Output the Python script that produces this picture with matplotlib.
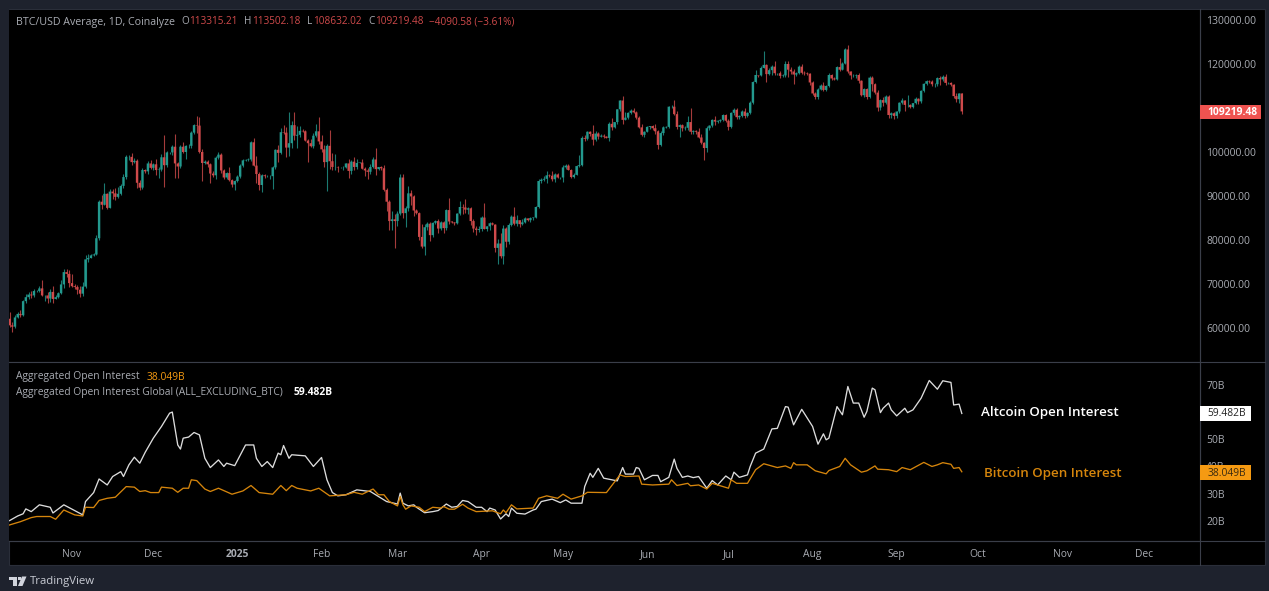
import numpy as np
import pandas as pd
import matplotlib
matplotlib.use('Agg')
import matplotlib.pyplot as plt
import matplotlib.dates as mdates
from matplotlib.patches import Rectangle, Polygon

W, H = 1269, 591
plt.rcParams['font.family'] = ['Open Sans', 'DejaVu Sans']

# daily closes in thousands, one row per month (Oct 9 2024 - Sep 25 2025)
closes = [
    60.6, 60.3, 62.4, 63.2, 62.9, 66.1, 67.0, 67.6, 67.4, 68.4, 68.4, 69.0, 67.4, 67.4, 66.7, 68.2, 66.6, 67.0, 67.9, 69.9, 72.7, 72.3, 70.2,
    69.5, 69.3, 68.7, 67.8, 69.4, 75.6, 75.9, 76.5, 76.7, 80.4, 88.7, 88.0, 90.5, 87.3, 91.0, 90.6, 89.8, 90.5, 92.3, 94.3, 98.9, 98.9, 97.7, 98.0, 93.0, 91.9, 95.9, 95.6, 97.4, 96.4,
    97.2, 95.9, 96.0, 98.8, 97.0, 99.9, 99.9, 101.2, 97.4, 96.7, 101.2, 100.0, 101.4, 101.4, 104.4, 106.1, 106.0, 100.0, 97.5, 97.8, 97.2, 95.1, 94.7, 98.7, 99.4, 95.8, 94.2, 95.2, 93.6, 92.6, 93.4,
    94.4, 96.9, 98.1, 98.2, 98.3, 102.2, 96.9, 95.0, 92.5, 94.7, 94.5, 94.5, 94.5, 96.5, 100.5, 99.8, 104.5, 104.4, 101.0, 102.0, 106.1, 103.7, 103.9, 104.8, 104.7, 102.6, 102.0, 101.3, 103.7, 104.7, 102.4,
    100.6, 97.7, 101.4, 97.9, 96.6, 96.6, 96.5, 96.5, 96.5, 97.4, 95.7, 97.8, 96.6, 97.5, 97.6, 96.2, 95.8, 95.5, 96.6, 98.3, 96.1, 96.6, 96.3, 91.4, 88.7, 84.3, 84.7, 84.3,
    86.0, 94.2, 86.1, 87.2, 90.6, 89.9, 86.7, 86.1, 80.7, 78.5, 82.9, 83.7, 81.1, 83.9, 84.3, 82.6, 84.0, 82.7, 86.8, 84.2, 84.0, 83.8, 86.0, 87.5, 87.4, 86.9, 87.2, 84.3, 82.6, 82.3, 82.5,
    85.1, 82.5, 83.1, 83.8, 83.5, 78.2, 79.2, 76.3, 82.6, 79.6, 83.4, 85.3, 83.7, 84.5, 83.6, 84.0, 84.9, 84.5, 85.0, 85.1, 87.5, 93.4, 93.7, 93.9, 94.7, 94.6, 93.8, 94.9, 94.2, 94.2,
    96.5, 96.9, 95.9, 94.3, 94.8, 96.8, 97.0, 103.2, 103.0, 104.6, 104.1, 102.8, 104.2, 103.5, 103.7, 103.5, 103.2, 106.4, 105.6, 106.8, 109.7, 111.7, 107.3, 107.8, 108.9, 109.4, 109.0, 107.8, 105.6, 103.9, 104.6,
    105.7, 105.9, 105.4, 104.7, 101.6, 104.3, 105.6, 105.7, 110.3, 110.3, 108.6, 105.7, 106.1, 105.4, 105.5, 106.8, 104.6, 104.8, 104.6, 103.3, 102.1, 100.9, 105.4, 106.0, 107.3, 106.9, 107.1, 107.3, 108.4, 107.1,
    105.7, 108.9, 109.6, 107.9, 108.2, 109.2, 108.2, 108.9, 111.2, 115.9, 117.5, 117.4, 119.1, 119.8, 117.7, 118.6, 119.4, 117.9, 117.9, 117.3, 117.4, 120.0, 118.7, 118.3, 117.6, 117.9, 119.4, 118.0, 117.9, 117.8, 115.8,
    113.3, 112.5, 114.2, 115.1, 114.1, 115.0, 117.5, 116.7, 116.5, 119.3, 118.7, 120.1, 123.3, 118.3, 117.4, 117.4, 117.5, 116.2, 112.9, 114.3, 112.5, 116.9, 115.4, 113.5, 110.1, 111.8, 111.2, 112.6, 108.4, 108.8, 108.2,
    109.2, 111.2, 111.7, 110.7, 110.7, 110.2, 111.1, 112.1, 111.5, 113.9, 115.5, 116.1, 116.0, 115.4, 115.4, 116.8, 116.5, 117.1, 115.7, 115.7, 115.3, 112.7, 112.0, 113.3, 109.219,
]
# wick length above the body, thousands
wick_up = [
    1.5, 0.8, 0.6, 0.4, 0.9, 0.3, 0.8, 0.6, 0.7, 0.5, 0.3, 0.5, 1.8, 0.2, 0.7, 0.6, 1.4, 0.4, 0.3, 1.0, 0.6, 0.7, 0.8,
    2.0, 0.6, 0.5, 0.8, 1.0, 1.0, 0.9, 0.4, 0.3, 0.8, 0.5, 1.5, 2.5, 0.2, 0.5, 0.7, 1.2, 1.5, 0.4, 0.6, 0.5, 0.4, 0.9, 0.6, 0.5, 0.7, 0.4, 0.2, 0.5, 0.8,
    0.3, 1.2, 0.5, 0.7, 5.0, 0.3, 0.2, 0.4, 3.0, 0.4, 0.3, 1.0, 0.2, 0.4, 0.3, 0.3, 2.0, 2.0, 0.6, 0.4, 0.3, 0.3, 0.5, 0.5, 0.5, 0.3, 0.3, 0.3, 1.4, 0.3, 0.2,
    0.3, 0.3, 0.3, 0.2, 0.4, 0.3, 0.9, 2.3, 0.4, 0.4, 0.3, 0.2, 0.2, 0.4, 0.2, 1.0, 1.0, 1.6, 1.2, 7.0, 1.0, 3.0, 2.0, 1.2, 0.5, 0.2, 0.4, 1.0, 0.6, 1.6, 3.3,
    1.5, 1.0, 0.5, 3.5, 1.8, 2.9, 0.3, 0.2, 0.4, 0.2, 0.9, 0.4, 1.0, 1.0, 0.2, 0.8, 0.4, 0.5, 0.6, 0.6, 2.7, 0.1, 0.3, 0.8, 0.4, 0.4, 2.0, 1.2,
    0.6, 0.8, 0.9, 0.5, 1.6, 0.7, 0.3, 0.3, 0.3, 2.9, 0.7, 0.3, 0.3, 0.2, 0.3, 0.4, 0.3, 0.4, 0.2, 2.7, 0.2, 0.2, 0.1, 1.4, 0.7, 1.9, 0.2, 0.4, 0.4, 0.5, 0.6,
    0.4, 3.3, 0.0, 0.3, 0.2, 0.1, 1.0, 2.4, 0.9, 0.3, 0.5, 0.3, 2.2, 1.2, 0.1, 0.7, 0.3, 0.2, 0.2, 0.1, 0.3, 0.4, 0.3, 0.6, 1.0, 0.4, 1.0, 0.4, 0.4, 0.1,
    0.6, 0.4, 0.4, 0.3, 0.4, 0.3, 2.4, 0.5, 0.6, 0.2, 0.2, 2.0, 0.6, 0.3, 0.4, 0.4, 0.2, 0.4, 1.3, 0.0, 0.1, 0.2, 1.0, 1.4, 0.2, 0.4, 0.5, 0.4, 0.3, 0.8, 0.1,
    0.2, 0.1, 0.2, 1.0, 0.3, 0.5, 0.2, 0.3, 0.1, 0.3, 1.5, 0.7, 0.3, 0.3, 0.3, 1.3, 3.1, 0.2, 0.2, 0.8, 0.7, 0.2, 0.5, 0.2, 0.1, 0.8, 0.2, 0.2, 0.2, 0.2,
    0.4, 0.2, 0.3, 0.4, 0.2, 0.3, 0.8, 0.2, 0.3, 0.2, 1.2, 0.1, 0.4, 3.1, 0.1, 0.5, 0.4, 1.2, 0.1, 0.4, 0.3, 0.6, 0.6, 0.7, 0.5, 0.2, 0.3, 0.5, 0.4, 0.3, 0.2,
    0.3, 0.3, 0.4, 0.4, 0.7, 0.2, 0.5, 0.2, 0.4, 0.2, 2.0, 0.3, 0.3, 1.1, 0.1, 0.3, 0.2, 0.4, 0.1, 0.2, 0.2, 0.3, 0.3, 0.2, 0.5, 0.3, 0.6, 0.3, 0.3, 0.2, 0.3,
    0.1, 0.2, 0.6, 0.1, 2.2, 0.2, 0.1, 0.3, 0.2, 0.1, 0.2, 0.2, 0.2, 0.4, 0.3, 0.3, 0.4, 0.3, 0.7, 0.1, 0.2, 0.1, 0.6, 0.2, 0.2,
]
# wick length below the body, thousands
wick_down = [
    0.4, 1.3, 0.2, 0.1, 0.3, 0.1, 0.4, 0.4, 0.6, 0.4, 0.3, 0.2, 0.2, 1.2, 1.0, 0.8, 0.9, 0.1, 0.2, 0.1, 0.8, 0.8, 0.8,
    0.2, 0.4, 0.9, 0.8, 0.6, 0.2, 0.6, 0.1, 0.2, 0.1, 0.3, 1.0, 0.1, 0.3, 0.1, 1.2, 0.6, 0.2, 0.2, 0.5, 0.4, 0.7, 0.6, 0.3, 1.2, 0.6, 0.2, 0.3, 0.5, 0.3,
    0.5, 1.2, 1.8, 0.4, 5.0, 0.3, 0.4, 0.5, 3.2, 2.5, 0.4, 0.3, 1.5, 0.4, 0.4, 0.4, 1.6, 0.3, 4.0, 0.3, 0.5, 2.2, 0.3, 0.8, 0.2, 0.5, 0.4, 0.4, 0.3, 0.6, 1.2,
    0.3, 0.4, 0.2, 0.1, 0.3, 0.3, 0.1, 2.0, 1.1, 1.6, 0.5, 0.1, 0.6, 2.8, 0.4, 2.0, 0.3, 0.4, 2.2, 1.9, 1.0, 1.0, 2.8, 0.5, 0.2, 0.1, 4.2, 0.2, 0.3, 0.2, 0.6,
    0.7, 1.0, 6.5, 1.7, 0.6, 0.8, 1.0, 0.1, 0.7, 0.2, 1.5, 0.7, 0.6, 0.5, 0.1, 0.1, 1.2, 1.6, 0.4, 0.3, 1.3, 0.1, 0.3, 0.2, 2.1, 2.0, 2.0, 6.1,
    1.2, 0.3, 1.1, 3.2, 0.6, 2.0, 1.2, 0.3, 0.6, 0.3, 1.9, 0.6, 1.3, 0.4, 0.3, 1.0, 0.4, 1.2, 0.5, 0.5, 0.2, 0.3, 0.2, 0.3, 1.4, 0.7, 0.9, 0.9, 0.8, 1.1, 0.4,
    0.4, 0.1, 0.4, 0.9, 0.2, 1.0, 3.7, 0.4, 1.8, 1.1, 0.5, 0.3, 0.2, 0.5, 0.6, 0.3, 0.2, 0.1, 0.3, 0.4, 0.2, 0.3, 0.5, 0.2, 1.0, 0.3, 0.5, 0.6, 0.1, 0.3,
    1.0, 0.4, 0.1, 0.2, 0.3, 0.1, 0.3, 0.2, 0.4, 0.3, 0.4, 1.3, 0.3, 0.5, 0.2, 0.4, 0.1, 0.8, 0.5, 0.2, 0.4, 0.3, 1.0, 0.1, 0.2, 0.2, 0.2, 0.3, 0.2, 0.2, 0.4,
    0.1, 0.5, 0.3, 0.5, 1.0, 0.2, 0.4, 0.2, 0.2, 0.4, 0.3, 0.5, 2.3, 0.6, 0.4, 0.6, 0.4, 0.6, 0.4, 0.2, 0.3, 2.7, 1.0, 0.4, 0.3, 0.8, 0.4, 0.3, 0.3, 0.2,
    0.6, 0.2, 0.4, 0.5, 0.3, 0.2, 0.4, 0.2, 0.2, 0.2, 0.2, 0.4, 0.2, 0.1, 1.7, 0.2, 1.0, 0.4, 0.4, 0.5, 0.3, 0.4, 1.7, 0.5, 2.1, 0.3, 0.1, 0.3, 0.4, 0.4, 0.5,
    0.4, 0.4, 0.4, 0.1, 0.2, 0.2, 0.2, 0.3, 0.2, 0.1, 0.2, 0.1, 0.2, 0.4, 0.7, 0.4, 0.5, 0.5, 0.2, 0.4, 0.5, 0.2, 1.5, 0.3, 0.7, 0.5, 0.8, 0.3, 0.6, 0.7, 0.6,
    0.5, 0.3, 0.3, 1.3, 0.5, 0.3, 0.2, 0.2, 0.7, 0.4, 0.3, 0.2, 0.3, 0.3, 0.6, 0.4, 1.3, 0.3, 0.4, 0.2, 0.2, 0.4, 0.7, 0.8, 0.6,
]

# open interest, billions: day offset from the first candle and value
alt_days = [0, 3, 5, 6, 8, 11, 15, 16, 20, 27, 28, 31, 33, 36, 38, 41, 42, 44, 46, 48, 50, 53, 56, 59, 60, 62, 63, 64, 66, 68, 70, 72, 74, 77, 79, 80, 83, 87, 90, 91, 93, 95, 97, 99, 100, 101, 103, 104, 109, 112, 115, 117, 119, 121, 124, 128, 133, 139, 143, 144,
            145, 147, 149, 150, 153, 156, 158, 161, 163, 165, 167, 169, 172, 174, 176, 177, 179, 181, 183, 184, 185, 187, 190, 193, 194, 196, 200, 203, 205, 207, 211, 212, 214, 215, 217, 219, 222, 224, 226, 227, 230, 231, 232, 234, 237, 239, 240, 243, 245, 246, 248, 250, 252, 254, 257, 259, 261, 264, 266, 267, 269, 272, 273, 275, 278, 281, 283, 286, 287, 289, 292,
            296, 298, 300, 301, 302, 305, 307, 309, 311, 313, 315, 316, 318, 319, 321, 322, 324, 325, 327, 330, 331, 333, 336, 339, 342, 344, 347, 348, 350, 351]
alt_oi = [20.1, 21.8, 22.6, 24.4, 23.4, 25.9, 25.0, 22.9, 25.9, 22.2, 27.1, 30.4, 35.4, 33.2, 36.3, 38.1, 36.3, 40.6, 43.4, 41.2, 45.2, 50.4, 54.7, 59.6, 60.0, 47.9, 46.4, 50.4, 50.8, 52.5, 51.6, 43.0, 39.6, 42.4, 40.0, 41.2, 40.3, 47.9, 47.9, 43.0, 40.0, 41.8, 39.6, 44.9, 44.3, 47.7, 43.0, 44.3, 43.9, 40.0, 43.3, 35.1, 30.4, 29.2, 29.6, 31.4, 30.8, 27.1, 26.2, 30.2,
          26.5, 25.5, 25.9, 25.0, 23.0, 23.4, 23.8, 26.2, 25.0, 25.3, 27.5, 27.1, 25.0, 25.0, 23.4, 24.7, 24.0, 20.7, 22.6, 21.6, 24.7, 22.8, 22.5, 24.0, 24.3, 27.1, 28.0, 26.7, 27.7, 26.5, 26.5, 32.6, 37.5, 36.0, 39.3, 35.7, 35.1, 34.7, 39.6, 37.2, 37.2, 39.6, 39.3, 35.1, 36.7, 36.7, 34.4, 36.0, 42.7, 39.3, 36.0, 36.5, 35.9, 36.3, 32.0, 34.8, 33.2, 36.5, 35.1, 37.9, 36.0, 36.9, 40.0, 44.9, 46.4, 53.8, 54.0, 62.0, 61.8, 55.3, 61.0,
          54.7, 48.2, 52.0, 49.8, 50.4, 62.0, 59.0, 69.4, 63.3, 63.3, 58.1, 60.2, 68.8, 68.2, 59.8, 61.4, 63.3, 60.8, 58.6, 61.4, 59.8, 60.8, 65.1, 71.6, 68.4, 71.5, 70.9, 62.6, 62.9, 59.482]
btc_days = [0, 4, 8, 10, 15, 17, 20, 24, 27, 28, 31, 33, 36, 39, 43, 46, 48, 50, 52, 55, 56, 60, 62, 64, 66, 67, 69, 72, 74, 77, 82, 86, 89, 92, 97, 100, 102, 104, 106, 111, 114, 118, 124, 127, 130, 134, 136, 138, 140, 143, 144,
            145, 146, 148, 151, 153, 156, 159, 160, 162, 164, 167, 169, 172, 178, 181, 182, 183, 185, 187, 193, 195, 198, 202, 204, 207, 211, 213, 220, 225, 227, 232, 233, 237, 243, 244, 246, 250, 251, 254, 257, 259, 265, 266, 268, 272, 275, 278, 283, 286, 288, 289, 290,
            294, 297, 301, 302, 306, 308, 310, 314, 316, 319, 320, 324, 327, 329, 332, 337, 340, 342, 344, 347, 348, 350, 351]
btc_oi = [18.5, 19.7, 21.2, 21.6, 21.6, 20.6, 24.0, 22.2, 21.8, 25.0, 24.9, 27.5, 28.3, 28.7, 32.6, 32.4, 30.8, 31.1, 30.4, 30.4, 32.4, 32.0, 30.5, 32.0, 32.0, 35.1, 34.8, 31.7, 30.8, 32.0, 29.8, 31.0, 33.0, 30.4, 29.8, 33.0, 31.1, 33.0, 32.0, 31.0, 32.0, 29.2, 29.6, 30.5, 29.8, 31.7, 29.6, 29.6, 27.1, 25.5, 29.0,
          25.9, 24.3, 25.5, 25.0, 23.4, 25.0, 24.7, 25.3, 24.3, 24.3, 26.1, 24.7, 23.4, 23.7, 22.6, 24.0, 23.0, 25.9, 24.4, 24.7, 28.3, 29.2, 28.3, 29.8, 28.0, 29.2, 30.5, 30.4, 36.9, 36.3, 36.5, 33.5, 33.2, 33.5, 35.1, 33.0, 33.8, 32.9, 33.2, 31.7, 33.8, 32.0, 35.1, 33.8, 33.8, 38.8, 41.0, 39.6, 40.2, 39.3, 41.4, 40.6,
          40.6, 38.4, 37.3, 38.5, 40.0, 43.0, 40.6, 37.9, 38.4, 40.2, 39.0, 38.8, 38.1, 39.6, 38.8, 41.5, 40.0, 40.6, 41.4, 40.8, 39.3, 39.6, 38.049]

price_ticks = [60000, 70000, 80000, 90000, 100000, 120000, 130000]
oi_ticks = [20, 30, 40, 50, 70]
month_ticks = ['2024-11-01', '2024-12-01', '2025-01-01', '2025-02-01', '2025-03-01', '2025-04-01', '2025-05-01',
               '2025-06-01', '2025-07-01', '2025-08-01', '2025-09-01', '2025-10-01', '2025-11-01', '2025-12-01']
month_labels = ['Nov', 'Dec', '2025', 'Feb', 'Mar', 'Apr', 'May', 'Jun', 'Jul', 'Aug', 'Sep', 'Oct', 'Nov', 'Dec']

FRAME = '#1e222d'
GRID = '#2a2e39'
UP = '#23998e'
DOWN = '#cf4a4b'
GREY = '#a9acb3'
ORANGE = '#f59a12'
LINE_ORANGE = '#d5850c'


def fx(x):
    return x / W


def fy(y):
    return 1 - y / H


def label(x, y, s, color=GREY, size=7.4, **kw):
    fig.text(fx(x), fy(y), s, color=color, fontsize=size, va='center', ha=kw.pop('ha', 'left'), zorder=20, **kw)


fig = plt.figure(figsize=(W / 100, H / 100), dpi=100, facecolor=FRAME)
fig.patches.append(Rectangle((fx(9), fy(565)), fx(1256), 556 / H, transform=fig.transFigure, facecolor='black', edgecolor=GRID, lw=0.8, zorder=-1))

ax = fig.add_axes([fx(9), fy(362), fx(1191), 352 / H], facecolor='black')
ax2 = fig.add_axes([fx(9), fy(541), fx(1191), 179 / H], facecolor='black', sharex=ax)

start = mdates.date2num(pd.Timestamp('2024-10-09'))
closes_k = np.array(closes) * 1000
opens_k = np.r_[62100, closes_k[:-1]]
x = start + np.arange(len(closes_k))
highs = np.maximum(opens_k, closes_k) + np.array(wick_up) * 1000
lows = np.minimum(opens_k, closes_k) - np.array(wick_down) * 1000
colors = np.where(closes_k >= opens_k, UP, DOWN)

ax.vlines(x, lows, highs, colors=colors, lw=0.8, alpha=0.8)
bars = ax.bar(x, np.abs(closes_k - opens_k), bottom=np.minimum(opens_k, closes_k), width=0.88, color=colors, linewidth=0)
for b in bars:
    b.set_snap(False)

ax2.plot(start + np.array(alt_days), alt_oi, color='#dcdcdc', lw=0.95)
ax2.plot(start + np.array(btc_days), btc_oi, color=LINE_ORANGE, lw=0.95)

ax.set_xlim(start - 0.2, start + 438.8)
ax.set_ylim(52270, 132270)
ax2.set_ylim(12.6, 78.4)

ax.yaxis.tick_right()
ax.set_yticks(price_ticks)
ax.set_yticklabels(['%.2f' % t for t in price_ticks])
ax2.yaxis.tick_right()
ax2.set_yticks(oi_ticks)
ax2.set_yticklabels(['%dB' % t for t in oi_ticks])
ax2.set_xticks([mdates.date2num(pd.Timestamp(d)) for d in month_ticks])
ax2.set_xticklabels(month_labels)
ax.tick_params(axis='x', length=0, labelbottom=False)
ax.tick_params(axis='y', length=0, labelcolor=GREY, labelsize=7.5, pad=4.5)
ax2.tick_params(axis='y', length=0, labelcolor=GREY, labelsize=7.5, pad=4.5)
ax2.tick_params(axis='x', length=0, labelcolor=GREY, labelsize=7.4, pad=6)
ax2.get_xticklabels()[2].set_fontweight('bold')

for a in (ax, ax2):
    for side in ('left', 'top'):
        a.spines[side].set_visible(False)
    for side in ('right', 'bottom'):
        a.spines[side].set_color('#3a3e49')
fig.add_artist(plt.Line2D([fx(1200), fx(1200)], [fy(565), fy(9)], color='#3a3e49', lw=0.8))
fig.add_artist(plt.Line2D([fx(9), fx(1265)], [fy(362), fy(362)], color='#3a3e49', lw=0.8))
fig.add_artist(plt.Line2D([fx(9), fx(1265)], [fy(541), fy(541)], color='#3a3e49', lw=0.8))

# header line
label(16, 22, 'BTC/USD Average, 1D, Coinalyze', size=7.65)
for px, s, c in [(181, 'O', GREY), (189, '113315.21', DOWN), (244, 'H', GREY), (252, '113502.18', DOWN),
                 (307, 'L', GREY), (313, '108632.02', DOWN), (368, 'C', GREY), (375, '109219.48', DOWN),
                 (429, '\u22124090.58 (\u22123.61%)', DOWN)]:
    label(px, 22, s, color=c, size=7.2)

# oi legend
label(16, 377, 'Aggregated Open Interest')
label(147, 377, '38.049B', color=ORANGE)
label(16, 392.5, 'Aggregated Open Interest Global (ALL_EXCLUDING_BTC)')
label(294, 392.5, '59.482B', color='white', fontweight='bold')

# notes on the chart
label(981, 412.5, 'Altcoin Open Interest', color='white', size=9.6, fontweight='semibold')
label(984, 473, 'Bitcoin Open Interest', color=LINE_ORANGE, size=9.6, fontweight='semibold')

# last value tags
for y0, y1, x1, fc, tc, s in [(105, 119, 1261, '#ef5350', 'white', '109219.48'),
                              (406, 421, 1251, 'white', '#222222', '59.482B'),
                              (465, 480, 1251, '#f59a12', '#3a2a10', '38.049B')]:
    fig.patches.append(Rectangle((fx(1200), fy(y1)), fx(x1 - 1200), (y1 - y0) / H, transform=fig.transFigure, facecolor=fc, edgecolor='none', zorder=10))
    label(1207.5, (y0 + y1) / 2 + 0.5, s, color=tc, fontweight='bold' if tc == 'white' else 'normal')

# footer logo and name
fig.patches.append(Polygon([(fx(9), fy(576.5)), (fx(17), fy(576.5)), (fx(17), fy(586)), (fx(13), fy(586)), (fx(13), fy(580)), (fx(9), fy(580))],
                           transform=fig.transFigure, facecolor='#d1d4dc', edgecolor='none'))
fig.patches.append(Polygon([(fx(22), fy(576.5)), (fx(26.5), fy(576.5)), (fx(22.5), fy(586)), (fx(18), fy(586))],
                           transform=fig.transFigure, facecolor='#d1d4dc', edgecolor='none'))
fig.patches.append(Rectangle((fx(17.8), fy(580)), fx(2.8), 3.2 / H, transform=fig.transFigure, facecolor='#d1d4dc', edgecolor='none'))
label(30, 581.5, 'TradingView', color='#c8cbd3', size=8.2)

fig.savefig('out.png', dpi=100, facecolor=FRAME)
